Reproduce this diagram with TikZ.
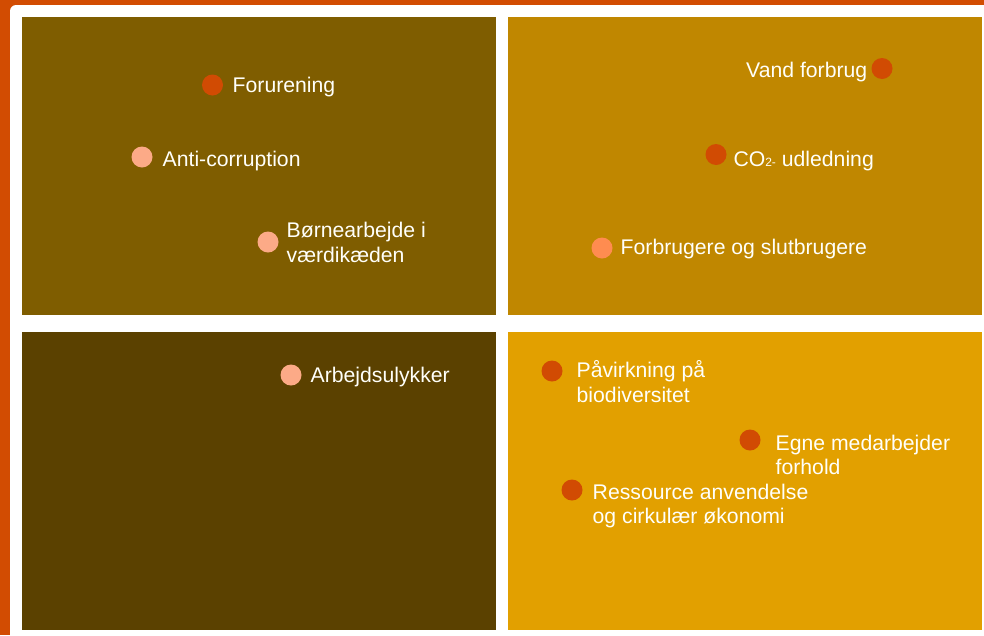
\documentclass[tikz,border=0pt]{standalone}
\usepackage{fontspec}
\setmainfont{Liberation Sans}
\definecolor{bgorange}{RGB}{210,76,2}
\definecolor{qtl}{RGB}{127,93,0}
\definecolor{qtr}{RGB}{192,135,0}
\definecolor{qbl}{RGB}{91,65,0}
\definecolor{qbr}{RGB}{226,160,0}
\definecolor{dotred}{RGB}{209,75,3}
\definecolor{dotsalmon}{RGB}{252,170,135}
\definecolor{dotorange}{RGB}{255,140,80}
\definecolor{txt}{RGB}{255,255,250}
\tikzset{
  quad/.style={draw=none},
  dotnode/.style={circle, minimum size=21pt, inner sep=0pt, draw=none},
  lbl/.style={anchor=base west, inner sep=0pt, text=txt, align=left,
    font=\fontsize{21.2}{24.5}\selectfont},
}
\begin{document}
\begin{tikzpicture}[x=1pt,y=-1pt]
\useasboundingbox (0,0) rectangle (984,635);
\fill[bgorange] (0,0) rectangle (984,635);
\fill[white, rounded corners=6pt] (10,5) rectangle (1000,650);
% quadrants
\fill[qtl] (22,17) rectangle (496,315);
\fill[qtr] (508,17) rectangle (982,315);
\fill[qbl] (22,332) rectangle (496,630);
\fill[qbr] (508,332) rectangle (982,630);
% top left
\node[dotnode, fill=dotred] (d1) at (212.5,85) {};
\node[lbl] (t1) at (232.5,92) {Forurening};
\node[dotnode, fill=dotsalmon] (d2) at (142,157) {};
\node[lbl] (t2) at (162.5,166) {Anti-corruption};
\node[dotnode, fill=dotsalmon] (d3) at (268,242) {};
\node[lbl] (t3) at (286.5,262) {Børnearbejde i\\værdikæden};
% top right
\node[lbl] (t4) at (746,77.5) {Vand forbrug};
\node[dotnode, fill=dotred] (d4) at (882,68.5) {};
\node[dotnode, fill=dotred] (d5) at (716,154.5) {};
\node[lbl] (t5) at (733.3,166) {CO{\fontsize{12}{12}\selectfont 2-} udledning};
\node[dotnode, fill=dotorange] (d6) at (602,248) {};
\node[lbl] (t6) at (620.5,254.7) {Forbrugere og slutbrugere};
% bottom left
\node[dotnode, fill=dotsalmon] (d7) at (291,375) {};
\node[lbl] (t7) at (310.5,382) {Arbejdsulykker};
% bottom right
\node[dotnode, fill=dotred] (d8) at (552,371) {};
\node[lbl] (t8) at (576.5,402) {Påvirkning på\\biodiversitet};
\node[dotnode, fill=dotred] (d9) at (750,440) {};
\node[lbl] (t9) at (775.5,474.5) {Egne medarbejder\\forhold};
\node[dotnode, fill=dotred] (d10) at (572,490) {};
\node[lbl] (t10) at (592.5,523.5) {Ressource anvendelse\\og cirkulær økonomi};
\end{tikzpicture}
\end{document}
